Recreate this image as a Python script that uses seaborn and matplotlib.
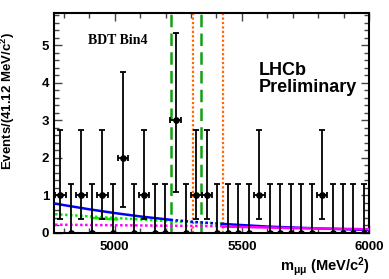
import numpy as np
import matplotlib
matplotlib.use("Agg")
import matplotlib.pyplot as plt
import seaborn as sns
from matplotlib.ticker import MultipleLocator

# binned data: 30 bins of 41.12 MeV between 4766.4 and 6000
bin_lo = 4766.4
bin_w = 41.12
counts = [1, 0, 1, 0, 1, 0, 2, 0, 1, 0,
          0, 3, 0, 1, 1, 0, 0, 0, 0, 1,
          0, 0, 0, 0, 0, 1, 0, 0, 0, 0]
# asymmetric errors, per count value
err_low = {0: 0.0, 1: 0.63, 2: 1.30, 3: 1.90}
err_high = {0: 1.29, 1: 1.75, 2: 2.27, 3: 2.33}

# fit curves
blue_x = [4766, 4900, 5000, 5100, 5220]
blue_y = [0.78, 0.63, 0.53, 0.44, 0.35]
blue_dot_x = [5220, 5320, 5426]
blue_dot_y = [0.35, 0.29, 0.24]
blue_r_x = [5426, 5600, 5800, 6000]
blue_r_y = [0.24, 0.17, 0.12, 0.08]
green_dot_x = [4766, 5000, 5220, 5426]
green_dot_y = [0.50, 0.40, 0.31, 0.25]
green_seg_x = [4910, 5010]
green_seg_y = [0.40, 0.36]
mag_dot_x = [4766, 5100, 5426]
mag_dot_y = [0.22, 0.20, 0.18]
mag_x = [5426, 5700, 6000]
mag_y = [0.17, 0.13, 0.10]

# signal windows
bd_window = [5219.6, 5339.6]
bs_window = [5306.3, 5426.3]

sns.set_style("ticks")
plt.rcParams['font.family'] = ['Liberation Sans', 'DejaVu Sans']
plt.rcParams['font.weight'] = 'bold'
plt.rcParams['text.color'] = 'black'
plt.rcParams['axes.labelcolor'] = 'black'
plt.rcParams['xtick.color'] = 'black'
plt.rcParams['ytick.color'] = 'black'
plt.rcParams['mathtext.fontset'] = 'custom'
plt.rcParams['mathtext.rm'] = 'Liberation Sans:bold'
plt.rcParams['mathtext.it'] = 'Liberation Sans:bold'
plt.rcParams['mathtext.bf'] = 'Liberation Sans:bold'

fig = plt.figure(figsize=(3.89, 2.79), dpi=100)
ax = fig.add_axes([0.139, 0.165, 0.81, 0.788])

centers = bin_lo + bin_w * (np.arange(len(counts)) + 0.5)
cnt = np.array(counts)
lo = np.array([err_low[c] for c in counts])
hi = np.array([err_high[c] for c in counts])
xerr = np.where(cnt > 0, bin_w / 2, 0.0)

for xv in bd_window:
    ax.axvline(xv, color='#11a011', ls=(0, (5, 2.5)), lw=1.8, zorder=1)
for xv in bs_window:
    ax.axvline(xv, color='#ff6600', ls=(0, (1, 1)), lw=1.6, zorder=1)

sns.lineplot(x=blue_x, y=blue_y, ax=ax, color='#0000ff', lw=1.8, zorder=3)
sns.lineplot(x=blue_dot_x, y=blue_dot_y, ax=ax, color='#0000ff', lw=1.8,
             ls=(0, (1, 1)), zorder=3)
sns.lineplot(x=green_dot_x, y=green_dot_y, ax=ax, color='#00ee00', lw=1.8,
             ls=(0, (1, 1)), zorder=2)
sns.lineplot(x=green_seg_x, y=green_seg_y, ax=ax, color='#00ee00', lw=1.8, zorder=2)
sns.lineplot(x=mag_dot_x, y=mag_dot_y, ax=ax, color='#ff00ff', lw=1.8,
             ls=(0, (1, 1)), zorder=2)
sns.lineplot(x=blue_r_x, y=blue_r_y, ax=ax, color='#0000ff', lw=1.8, zorder=3)
sns.lineplot(x=mag_x, y=mag_y, ax=ax, color='#ff00ff', lw=1.8, zorder=3)

ax.errorbar(centers, cnt, yerr=[lo, hi], xerr=xerr, fmt='o', color='black',
            ms=3.8, lw=1.3, capsize=2, capthick=1.3, zorder=4)

ax.set_xlim(4762, 6000)
ax.set_ylim(0, 5.85)
ax.xaxis.set_major_locator(MultipleLocator(500))
ax.xaxis.set_minor_locator(MultipleLocator(100))
ax.yaxis.set_major_locator(MultipleLocator(1))
ax.yaxis.set_minor_locator(MultipleLocator(0.2))
ax.tick_params(which='both', direction='in', top=True, right=True,
               labelsize=9.5, width=1, color='#444444')
ax.tick_params(which='major', length=6)
ax.tick_params(which='minor', length=3.5)
ax.tick_params(axis='x', pad=6)
for lab in ax.get_xticklabels() + ax.get_yticklabels():
    lab.set_fontweight('bold')
for sp in ax.spines.values():
    sp.set_linewidth(1.5)
    sp.set_color('black')

ax.set_ylabel('Events/(41.12 MeV/c$^{2}$)', fontsize=9.5, fontweight='bold')
ax.yaxis.set_label_coords(-0.118, 0.6)
ax.set_xlabel('m$_{\\mu\\mu}$ (MeV/c$^{2}$)', fontsize=10.5, fontweight='bold',
              loc='right', labelpad=1)

ax.text(0.203, 0.877, 'BDT Bin4', transform=ax.transAxes, ha='center',
        va='center', fontsize=10, fontweight='bold',
        family=['Liberation Serif', 'DejaVu Serif'])
ax.text(0.65, 0.70, 'LHCb\nPreliminary', transform=ax.transAxes, ha='left',
        va='center', fontsize=13, fontweight='bold', linespacing=1.0)

fig.savefig('out.png', dpi=100)
